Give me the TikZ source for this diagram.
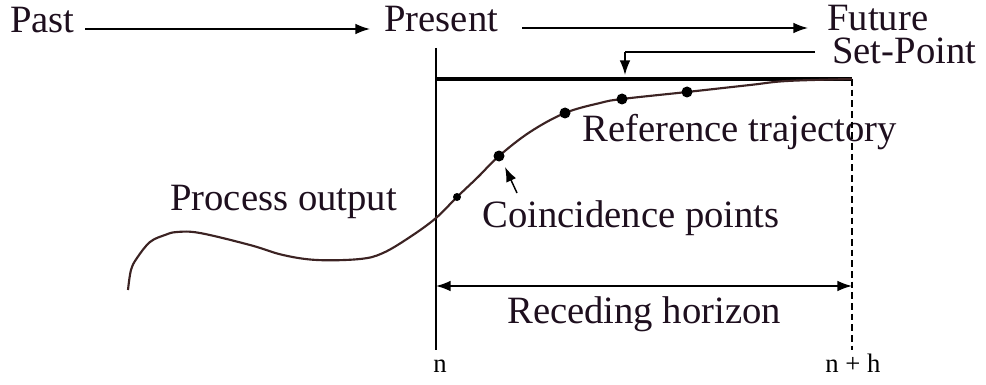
\documentclass[tikz,border=0pt]{standalone}
\usepackage{fontspec}
\setmainfont{Liberation Serif}
\usepackage{tikz}
\usetikzlibrary{calc, arrows.meta}
\usepackage{tkz-euclide}
\usepackage{xcolor}
\definecolor{trajcol}{RGB}{60,35,35}
\definecolor{txtcol}{RGB}{30,15,30}

\begin{document}
\begin{tikzpicture}[x = 0.75pt, y = -0.75pt,
    lbl/.style = {font=\fontsize{29}{35}\selectfont, text=txtcol, inner sep=0pt, anchor=base west},
    tick/.style = {font=\fontsize{20}{24}\selectfont, inner sep=0pt},
    thinline/.style = {line width=1.1pt},
    arr/.style = {thinline, -{Latex[length=11pt, width=8pt]}}]
            \useasboundingbox (0,0) rectangle (986,385);
            % time axis labels
            \node[lbl] (past) at (10,33) {Past};
            \node[lbl] (present) at (384,32) {Present};
            \node[lbl] (future) at (827,31) {Future};
            \node[lbl] (setpt) at (832,64) {Set-Point};
            \node[lbl] (reftraj) at (582,142) {Reference trajectory};
            \node[lbl] (coinc) at (482,227) {Coincidence points};
            \node[lbl] (procout) at (170,210) {Process output};
            \node[lbl] (recede) at (507,323) {Receding horizon};
            \node[tick, anchor=base west] (tn) at (433,372) {n};
            \node[tick, anchor=base] (tnh) at (853,372) {n + h};
            % points
            \tkzDefPoints{85/29/A1, 370/29/A2, 522/28/B1, 808/28/B2}
            \tkzDefPoints{815/52/S1, 625/52/S2, 625/75/S3}
            \tkzDefPoints{436/48/N1, 436/350/N2, 852/79/M1, 852/350/M2}
            \tkzDefPoints{436/79/T1, 852/79/T2, 436/286/H1, 852/286/H2}
            \tkzDefPoints{517/193/C1, 505/167/C2}
            \tkzDefPoints{457/197/D1, 499/156/D2, 565/113/D3, 622/99/D4, 687/92/D5}
            % axes and horizon
            \draw[arr] (A1) -- (A2);
            \draw[arr] (B1) -- (B2);
            \draw[thinline] (N1) -- (N2);
            \draw[thinline] (S1) -- (S2);
            \draw[arr] (S2) -- (S3);
            \draw[thinline, dash pattern=on 5pt off 3pt] (M1) -- (M2);
            \draw[line width=2.4pt] (T1) -- (T2);
            \draw[arr] (C1) -- (C2);
            \draw[thinline, {Latex[length=11pt, width=8pt]}-{Latex[length=11pt, width=8pt]}] (H1) -- (H2);
            % process output and reference trajectory
            \draw[trajcol, line width=1.6pt] plot[smooth, tension=0.6] coordinates {
                (128,290) (131,270) (137,258) (150,242) (165,235) (177,232) (200,233)
                (250,245) (283,255) (317,260) (360,259) (383,253) (410,237)
                (436,218) (457,197) (478,177) (499,156) (530,132) (565,113)
                (600,103) (622,99) (687,92) (750,85) (787,81) (852,79)};
            \fill (D1) circle (4);
            \foreach \p in {D2, D3, D4, D5}
                \fill (\p) circle (5.5);
        \end{tikzpicture}
\end{document}
